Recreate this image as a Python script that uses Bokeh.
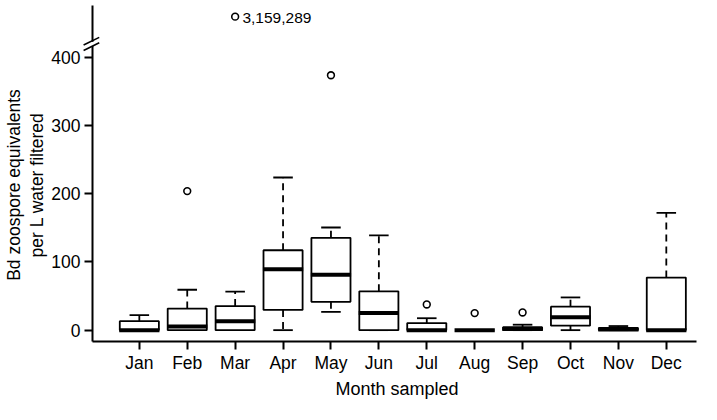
from bokeh.plotting import figure
from bokeh.models import LinearAxis, FixedTicker, Range1d, ColumnDataSource
from bokeh.embed import file_html
from bokeh.resources import INLINE
from bokeh.core.properties import value

# ---------------- data ----------------
months = ["Jan", "Feb", "Mar", "Apr", "May", "Jun",
          "Jul", "Aug", "Sep", "Oct", "Nov", "Dec"]
lower_whisker = [0, 0, 0, 0, 26.8, 0, 0, 0, 0, 0, 0, 0]
q1 = [0, 0, 0, 29.7, 41.5, 0, 0, 0, 0, 6.6, 0, 0]
median = [0, 5.2, 13.2, 89.5, 81.4, 25, 0, 0, 1.5, 18.9, 1.0, 0]
q3 = [13.2, 31.6, 35.3, 117.2, 135.5, 57, 10.4, 0, 4.3, 34.4, 3.3, 77.2]
upper_whisker = [22, 59.3, 56.5, 224, 150.6, 139, 17.5, 0, 8, 48, 6, 172]
outlier_month = ["Feb", "Mar", "May", "Jul", "Aug", "Sep"]
outlier_value = [204, 3159289, 374, 37.7, 25, 26]
y_ticks = [0, 100, 200, 300, 400]

# broken axis: values above AXIS_MAX are drawn above the break
AXIS_MAX = 450
BREAK_VALUE = 420
OFFSCALE_POS = 460

# ---------------- geometry ----------------
W, H = 701, 404
SX, SY = W / 717.0, H / 420.0          # fit the 717x420 layout into the figure
PX_X = 49.0 * SX                        # pixels per month
PX_Y = 0.7085 * SY                      # pixels per unit
X1_PX = 142.0 * SX                      # px of first month
Y0_PX = H - 342.7 * SY                  # px (from bottom) of value 0
xr = Range1d(1 - X1_PX / PX_X, 1 + (W - X1_PX) / PX_X)
yr = Range1d(-Y0_PX / PX_Y, (H - Y0_PX) / PX_Y)

def xd(rx):
    return xr.start + rx * SX / PX_X

def yd(ry):
    return yr.end - ry * SY / PX_Y

AX_X = xd(94)       # location of y axis
AX_Y = yd(355)      # location of x axis
FONT = "Liberation Sans"

p = figure(width=W, height=H, x_range=xr, y_range=yr,
           x_axis_location=None, y_axis_location=None,
           output_backend="svg", toolbar_location=None,
           min_border=0, outline_line_color=None)
p.xgrid.visible = False
p.ygrid.visible = False

xs = [i + 1 for i in range(len(months))]
half_box = 0.408
half_cap = 0.204

src = ColumnDataSource(dict(
    x=xs, left=[x - half_box for x in xs], right=[x + half_box for x in xs],
    cl=[x - half_cap for x in xs], cr=[x + half_cap for x in xs],
    lw=lower_whisker, q1=q1, med=median, q3=q3, uw=upper_whisker,
    ml=[x - half_box - 0.012 for x in xs], mr=[x + half_box + 0.012 for x in xs],
))

# whiskers (dashed), caps
p.segment("x", "q3", "x", "uw", source=src, line_color="black",
          line_width=1.8, line_dash="7 5")
p.segment("x", "q1", "x", "lw", source=src, line_color="black",
          line_width=1.8, line_dash="7 5")
p.segment("cl", "uw", "cr", "uw", source=src, line_color="black", line_width=1.8)
p.segment("cl", "lw", "cr", "lw", source=src, line_color="black", line_width=1.8)
# boxes
p.quad(left="left", right="right", bottom="q1", top="q3", source=src,
       fill_color="white", line_color="black", line_width=1.8)
# medians
p.segment("ml", "med", "mr", "med", source=src, line_color="black",
          line_width=4, line_cap="butt")

# outliers
ox = [months.index(m) + 1 for m in outlier_month]
oy = [v if v <= AXIS_MAX else OFFSCALE_POS for v in outlier_value]
p.scatter(ox, oy, marker="circle", size=6.8, fill_color=None,
          line_color="black", line_width=1.6)
big = [(x, v) for x, v in zip(ox, outlier_value) if v > AXIS_MAX]
p.text([b[0] for b in big], [OFFSCALE_POS] * len(big),
       text=[f"{b[1]:,}" for b in big], x_offset=7.3, y_offset=1.5,
       text_align="left", text_baseline="alphabetic",
       text_font=value(FONT), text_font_size="15.5px", text_color="black")

# ---------------- axes ----------------
def style(ax, size="17.5px"):
    ax.major_label_text_font = FONT
    ax.major_label_text_font_size = size
    ax.major_label_text_color = "black"
    ax.axis_label_text_font = FONT
    ax.axis_label_text_font_size = "17.5px"
    ax.axis_label_text_font_style = "normal"
    ax.axis_label_text_color = "black"
    ax.minor_tick_line_color = None

yaxis = LinearAxis(fixed_location=AX_X, bounds=(AX_Y, yd(5)),
                   ticker=FixedTicker(ticks=y_ticks))
style(yaxis)
yaxis.axis_line_width = 2
yaxis.major_tick_line_width = 2
yaxis.major_tick_in = 0
yaxis.major_tick_out = 8
yaxis.major_label_standoff = 4
p.add_layout(yaxis, "left")

title_center = yd(192)
for text, standoff in [("per L water filtered", 46), ("Bd zoospore equivalents", 69)]:
    ax = LinearAxis(fixed_location=AX_X,
                    bounds=(AX_Y, 2 * title_center - AX_Y),
                    ticker=FixedTicker(ticks=[]), axis_label=text)
    style(ax)
    ax.axis_line_color = None
    ax.major_tick_out = 0
    ax.major_tick_in = 0
    ax.major_label_standoff = 0
    ax.axis_label_standoff = standoff
    p.add_layout(ax, "left")

xaxis = LinearAxis(fixed_location=AX_Y, bounds=(AX_X, xd(712)),
                   ticker=FixedTicker(ticks=xs),
                   major_label_overrides={x: m for x, m in zip(xs, months)})
style(xaxis)
xaxis.axis_line_width = 2
xaxis.major_tick_line_width = 2
xaxis.major_tick_in = 0
xaxis.major_tick_out = 8
xaxis.major_label_standoff = 3
p.add_layout(xaxis, "below")

xcenter = xd(407)
xt = LinearAxis(fixed_location=AX_Y, bounds=(AX_X, 2 * xcenter - AX_X),
                ticker=FixedTicker(ticks=[]), axis_label="Month sampled")
style(xt)
xt.axis_label_text_font_size = "18px"
xt.axis_line_color = None
xt.major_tick_out = 0
xt.major_tick_in = 0
xt.major_label_standoff = 0
xt.axis_label_standoff = 37
p.add_layout(xt, "below")

# ---------------- axis break marks (drawn above the axis line) ----------------
bx = 93
by = 342.7 - BREAK_VALUE * 0.7085
p.segment([xd(94)], [yd(by - 2.2)], [xd(94)], [yd(by + 2.2)],
          line_color="white", line_width=5, level="overlay")
p.segment([xd(bx - 8), xd(bx - 8)], [yd(by + 1.2), yd(by + 6.8)],
          [xd(bx + 8), xd(bx + 8)], [yd(by - 6.8), yd(by - 1.2)],
          line_color="black", line_width=1.6, level="overlay")

open("out.html", "w").write(file_html(p, INLINE))
